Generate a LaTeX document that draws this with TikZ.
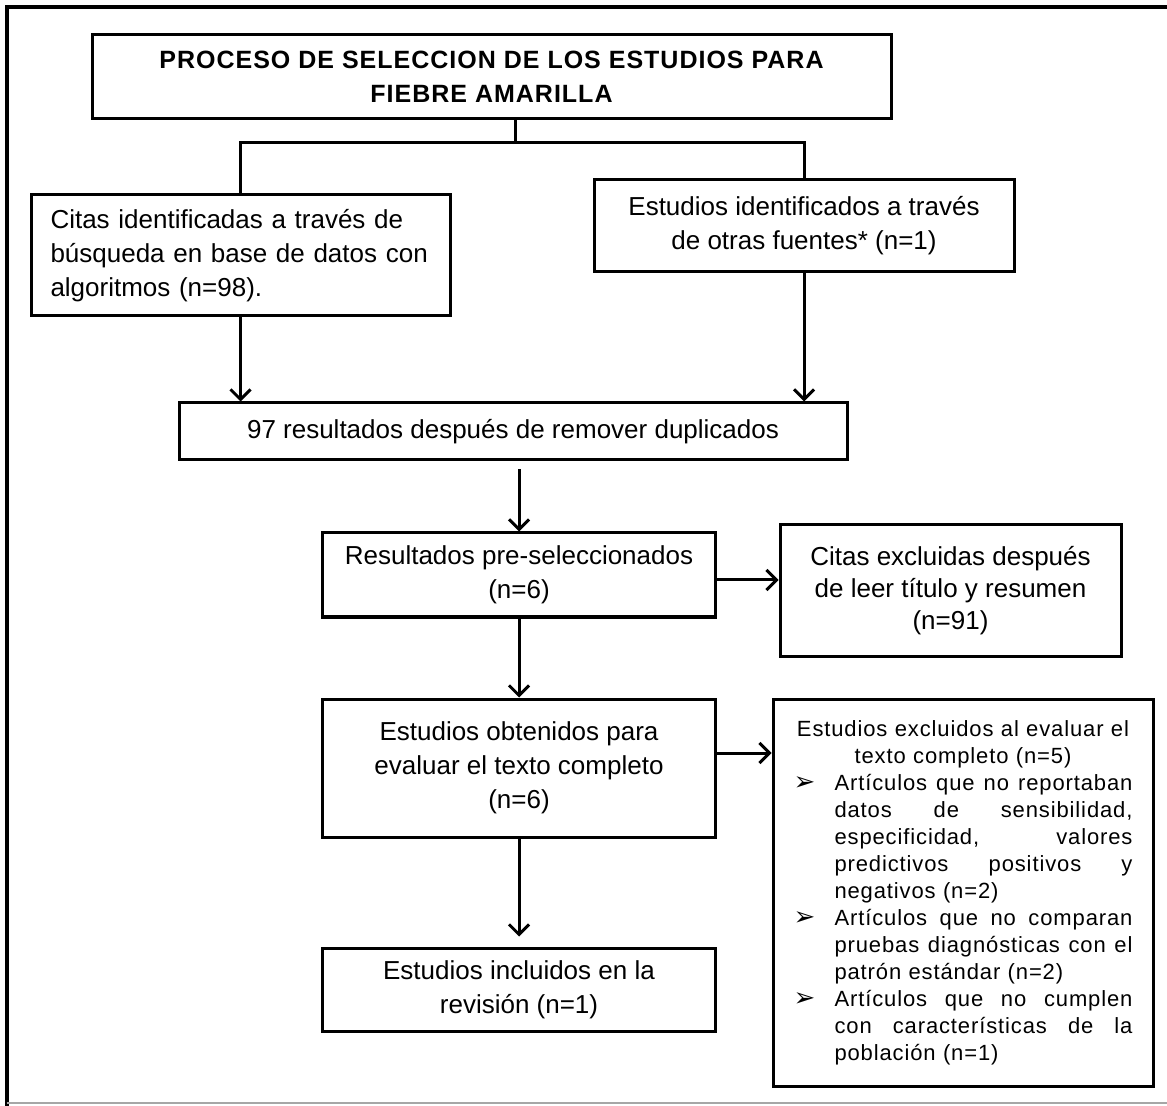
\documentclass[tikz,border=0pt]{standalone}
\usepackage{fontspec}
\setmainfont{Liberation Sans}
\newfontfamily\titlefont[LetterSpace=4]{Liberation Sans}
\newfontfamily\spacedfont[LetterSpace=4]{Liberation Sans}
\newfontfamily\bulletfont{DejaVu Sans}
\usetikzlibrary{arrows.meta,positioning}
\tikzset{box/.style={draw,line width=1.5pt,inner sep=0pt,align=center,font=\fontsize{13}{17}\selectfont}}
\tikzset{flow/.style={-{Straight Barb[length=5pt,width=10pt,line width=1.5pt]},line width=1.5pt}}
\newcommand{\exjust}[1]{\makebox[149pt][s]{\spaceskip=\fontdimen2\font plus 1fil\relax #1}}
\newcommand{\exitem}[1]{\makebox[20.5pt][l]{\bulletfont\fontsize{13}{13}\selectfont ➢}\exjust{#1}}
\newcommand{\exline}[1]{\hspace*{20.5pt}\exjust{#1}}
\newcommand{\exlast}[1]{\hspace*{20.5pt}\makebox[149pt][l]{#1}}

\begin{document}
\begin{tikzpicture}[x=0.5pt,y=-0.5pt]
% \draw[help lines] (0,0) grid (1167,1106);
\useasboundingbox (0,0) rectangle (1167,1106);
\draw[line width=2pt] (6.5,1110) -- (6.5,7) -- (1175,7);
\draw[gray!70,line width=1pt] (6.5,1102.5) -- (1175,1102.5);
%
\node (title) [box,minimum width=399.5pt,minimum height=42pt,font=\titlefont\bfseries\fontsize{12.5}{17}\selectfont] at (491.5,77) {PROCESO DE SELECCION DE LOS ESTUDIOS PARA\\FIEBRE AMARILLA};
\node (citas) [box,minimum width=209.5pt,minimum height=60.5pt,text width=190pt,align=left] at (240.5,255.5) {Citas identificadas a través de\\búsqueda en base de datos con\\algoritmos (n=98).};
\node (otras) [box,minimum width=210pt,minimum height=46pt] at (804,226) {Estudios identificados a través\\de otras fuentes* (n=1)};
\node (dup) [box,minimum width=334pt,minimum height=28.5pt] at (513,431.5) {97 resultados después de remover duplicados};
\node (presel) [box,minimum width=196.5pt,minimum height=42pt] at (519,575) {Resultados pre-seleccionados\\(n=6)};
\node (excl1) [box,minimum width=170.5pt,minimum height=65.5pt,font=\fontsize{13}{16}\selectfont] at (950.5,590.5) {Citas excluidas después\\de leer título y resumen\\(n=91)};
\node (texto) [box,minimum width=196.5pt,minimum height=69pt] at (519,768) {Estudios obtenidos para\\evaluar el texto completo\\(n=6)};
\node (excl2) [box,minimum width=190pt,minimum height=193.5pt,text width=169.5pt,font=\spacedfont\fontsize{11}{13.5}\selectfont] at (963,892.5) {Estudios excluidos al evaluar el\\
  texto completo (n=5)\\
  \exitem{Artículos que no reportaban}\\
  \exline{datos de sensibilidad,}\\
  \exline{especificidad, valores}\\
  \exline{predictivos positivos y}\\
  \exlast{negativos (n=2)}\\
  \exitem{Artículos que no comparan}\\
  \exline{pruebas diagnósticas con el}\\
  \exlast{patrón estándar (n=2)}\\
  \exitem{Artículos que no cumplen}\\
  \exline{con características de la}\\
  \exlast{población (n=1)}};
\node (incl) [box,minimum width=196.5pt,minimum height=41.5pt] at (519,989.5) {Estudios incluidos en la\\revisión (n=1)};
%
\coordinate (split) at (515,143);
\draw[line width=1.5pt] (title.south -| split) -- (split);
\draw[line width=1.5pt] (citas.north) -- (citas.north |- split) -- (otras.north |- split) -- (otras.north);
\draw[flow] (citas.south) -- (citas.south |- dup.north);
\draw[flow] (otras.south) -- (otras.south |- dup.north);
\draw[flow,shorten <=4pt] (presel.north |- dup.south) -- (presel.north);
\path[flow] (presel) edge (texto);
\path[flow,shorten >=5pt] (texto) edge (incl);
\draw[flow] ([yshift=-2.5pt]presel.east) -- ([yshift=-2.5pt]presel.east -| excl1.west);
\draw[flow] ([yshift=7.5pt]texto.east) -- ([yshift=7.5pt]texto.east -| excl2.west);
\end{tikzpicture}
\end{document}
